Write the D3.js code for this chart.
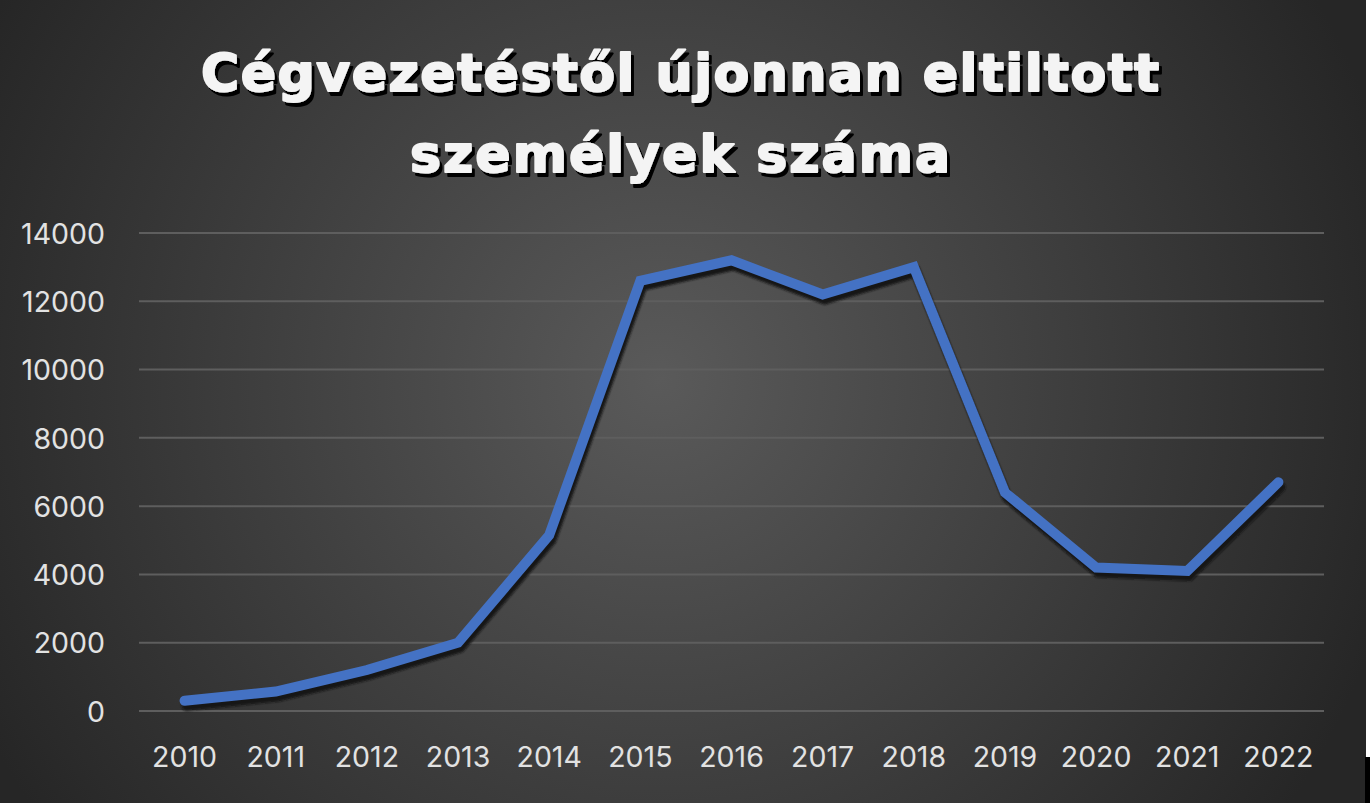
<!DOCTYPE html>
<html><head><meta charset="utf-8">
<script src="https://cdn.jsdelivr.net/npm/d3@7"></script>
<style>html,body{margin:0;padding:0;background:#fff;}svg{display:block;}</style>
</head><body>
<script>
const years = ["2010","2011","2012","2013","2014","2015","2016","2017","2018","2019","2020","2021","2022"];
const values = [300, 570, 1200, 2000, 5150, 12600, 13200, 12200, 13000, 6400, 4200, 4100, 6700];
const yTicks = [0, 2000, 4000, 6000, 8000, 10000, 12000, 14000];
const titleLines = ["Cégvezetéstől újonnan eltiltott", "személyek száma"];

const W = 1370, H = 808;
const svg = d3.select("body").append("svg").attr("width", W).attr("height", H);
const defs = svg.append("defs");
const rg = defs.append("radialGradient").attr("id","bg").attr("gradientUnits","userSpaceOnUse")
  .attr("cx",660).attr("cy",380).attr("r",760);
rg.append("stop").attr("offset","0%").attr("stop-color","#5a5a5a");
rg.append("stop").attr("offset","100%").attr("stop-color","#262626");
const f = defs.append("filter").attr("id","sh").attr("x","-5%").attr("y","-5%").attr("width","110%").attr("height","110%");
f.append("feGaussianBlur").attr("stdDeviation",1);
const ft = defs.append("filter").attr("id","tsh").attr("x","-5%").attr("y","-20%").attr("width","110%").attr("height","140%");
ft.append("feDropShadow").attr("dx",3).attr("dy",4).attr("stdDeviation",0.4).attr("flood-color","#000").attr("flood-opacity",1);

svg.append("rect").attr("width",1366).attr("height",803).attr("fill","url(#bg)");
svg.append("rect").attr("x",1365).attr("y",757).attr("width",5).attr("height",46).attr("fill","#000");

const x = d3.scaleBand().domain(years).range([139,1324]);
const y = d3.scaleLinear().domain([0,14000]).range([711,233]);

const grid = svg.append("g");
grid.selectAll("line").data(yTicks).join("line")
  .attr("x1",139).attr("x2",1324).attr("y1",d=>y(d)).attr("y2",d=>y(d))
  .attr("stroke","#5e5e5e").attr("stroke-width",2);

const yAxis = d3.axisLeft(y).tickValues(yTicks).tickSize(0).tickPadding(0).tickFormat(d3.format("d"));
const gy = svg.append("g").attr("transform","translate(105,0)").call(yAxis);
gy.select(".domain").remove();
gy.selectAll("text").attr("font-family","Inter, 'Noto Sans', sans-serif").attr("font-size",28.5)
  .attr("fill","#e2e2e2").attr("dy","0.36em");

const xAxis = d3.axisBottom(x).tickSize(0).tickPadding(0);
const gx = svg.append("g").attr("transform","translate(0,767)").call(xAxis);
gx.select(".domain").remove();
gx.selectAll("text").attr("font-family","Inter, 'Noto Sans', sans-serif").attr("font-size",28.5)
  .attr("fill","#e2e2e2").attr("dy",0);

const line = d3.line().x((d,i)=>x(years[i])+x.bandwidth()/2).y(d=>y(d));
svg.append("path").datum(values).attr("d",line).attr("fill","none")
  .attr("stroke","#141414").attr("stroke-width",10).attr("stroke-linecap","round").attr("stroke-linejoin","miter")
  .attr("transform","translate(2,5)").attr("filter","url(#sh)");
svg.append("path").datum(values).attr("d",line).attr("fill","none")
  .attr("stroke","#4472c4").attr("stroke-width",10).attr("stroke-linecap","round").attr("stroke-linejoin","miter");

const tg = svg.append("g");
const baselines = [91, 172];
const widths = [958, 540];
titleLines.forEach((t,i)=>{
  tg.append("text").text(t).attr("x",680).attr("y",baselines[i])
    .attr("text-anchor","middle").attr("font-family","'DejaVu Sans', sans-serif")
    .attr("font-weight","bold").attr("font-size",52).attr("fill","#f4f4f4")
    .attr("stroke","#f4f4f4").attr("stroke-width",2).attr("stroke-linejoin","round")
    .attr("textLength",widths[i]).attr("lengthAdjust","spacing")
    .attr("filter","url(#tsh)");
});
</script>
</body></html>
